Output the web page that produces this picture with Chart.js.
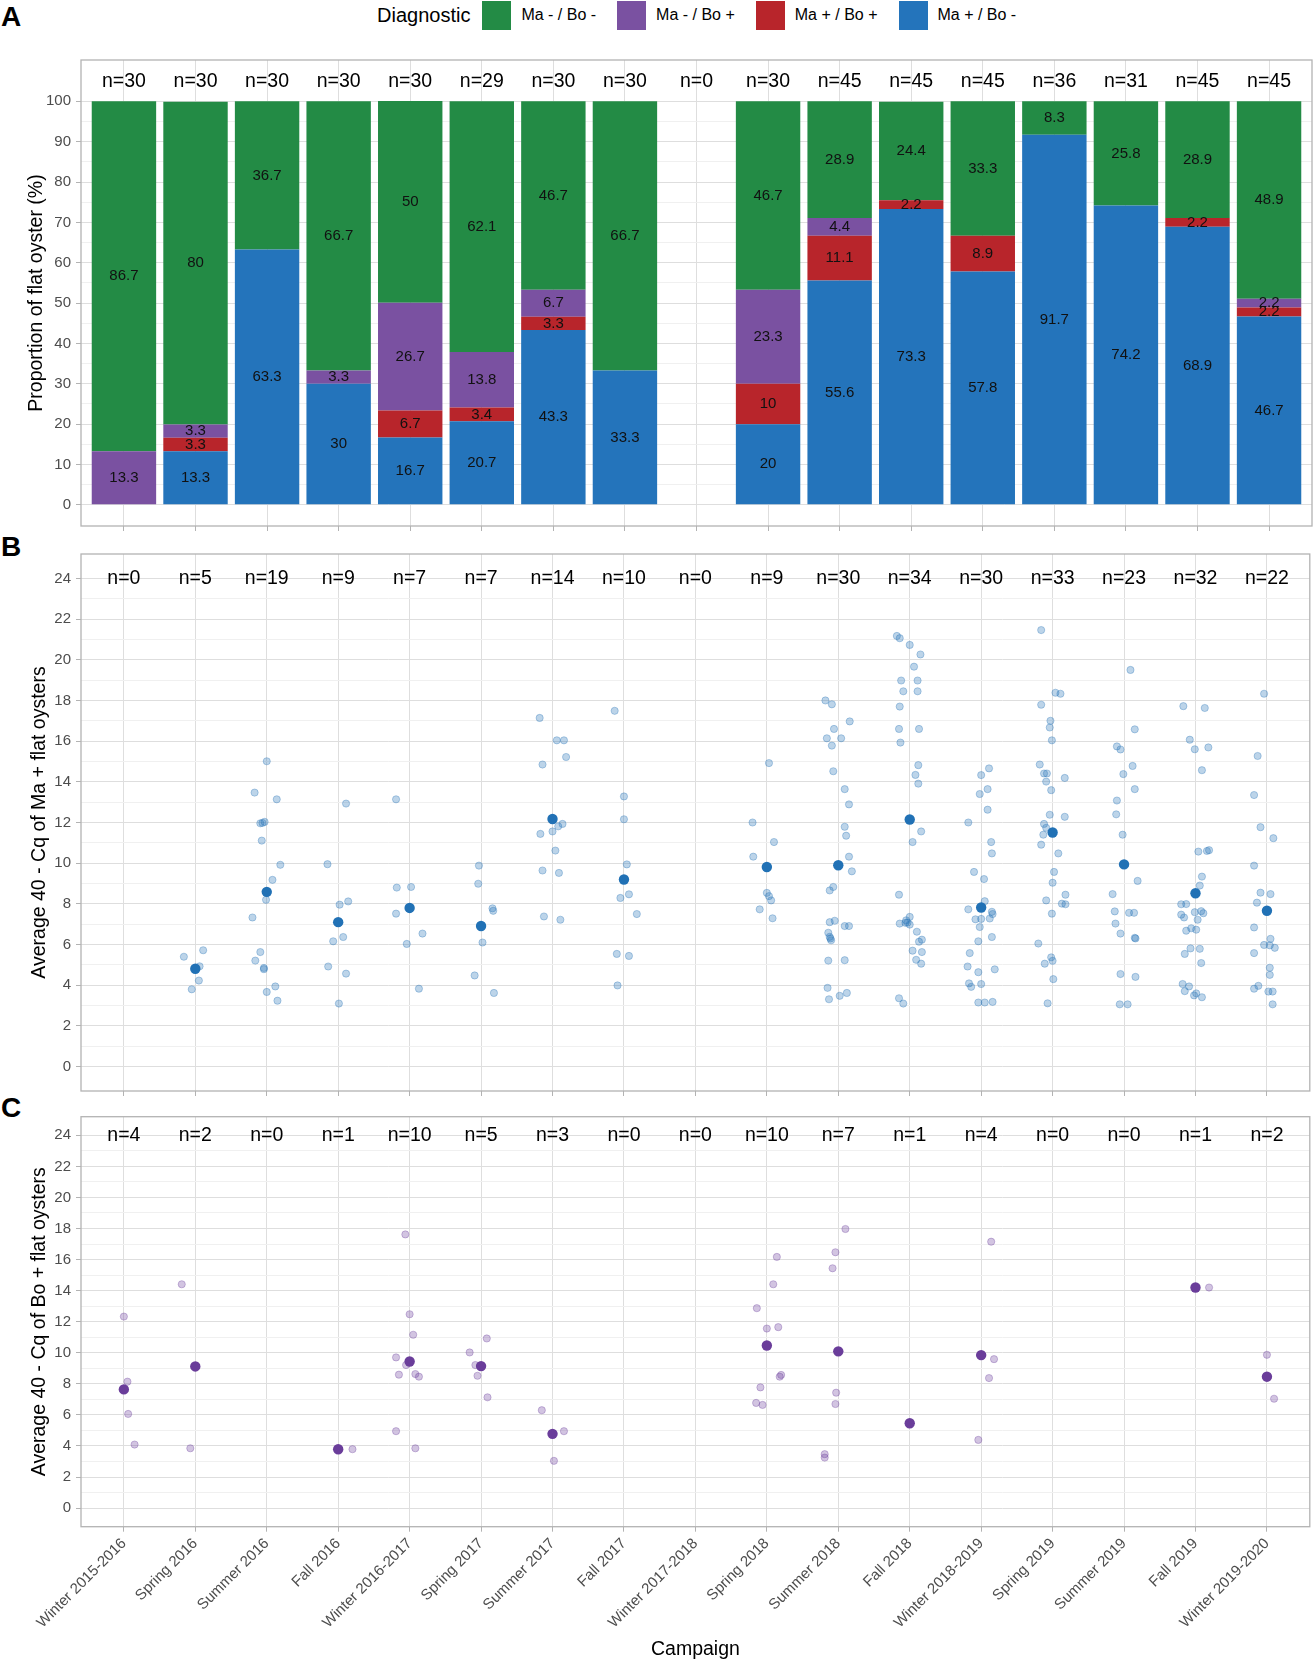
<!DOCTYPE html>
<html lang="en">
<head>
<meta charset="utf-8">
<title>Flat oyster diagnostics per campaign</title>
<script src="https://cdn.jsdelivr.net/npm/chart.js"></script>
<style>
  body { margin: 0; background: #fff; }
  #page { position: relative; width: 1315px; height: 1661px; overflow: hidden;
          font-family: "Liberation Sans", Arial, sans-serif; }
  #page canvas { position: absolute; left: 0; }
  .tag { position: absolute; left: 1px; font-size: 28px; font-weight: bold; line-height: 28px; }
  #legend { position: absolute; top: 0; left: 377px; height: 30px; display: flex; align-items: center; white-space: nowrap; }
  #legend .title { font-size: 20px; margin-right: 12px; }
  #legend .key { width: 29px; height: 29px; margin-right: 10px; }
  #legend .lab { font-size: 16px; margin-right: 21px; }
</style>
</head>
<body>
<div id="page">
  <div id="legend"></div>
  <div class="tag" style="top:3px">A</div>
  <div class="tag" style="top:533px">B</div>
  <div class="tag" style="top:1094px">C</div>
  <canvas id="chartA" width="1315" height="540" style="top:0"></canvas>
  <canvas id="chartB" width="1315" height="565" style="top:540px"></canvas>
  <canvas id="chartC" width="1315" height="561" style="top:1100px"></canvas>
</div>
<script>
// ---------- data ----------
const campaigns = ['Winter 2015-2016', 'Spring 2016', 'Summer 2016', 'Fall 2016', 'Winter 2016-2017',
  'Spring 2017', 'Summer 2017', 'Fall 2017', 'Winter 2017-2018', 'Spring 2018', 'Summer 2018',
  'Fall 2018', 'Winter 2018-2019', 'Spring 2019', 'Summer 2019', 'Fall 2019', 'Winter 2019-2020'];

const diagnostics = ['Ma - / Bo -', 'Ma - / Bo +', 'Ma + / Bo +', 'Ma + / Bo -'];
const diagColors = ['#238b45', '#7a51a1', '#b8252b', '#2474bb'];

// panel A: % of flat oysters per diagnostic (null = no sampling)
const pctMaPosBoNeg = [0, 13.3, 63.3, 30, 16.7, 20.7, 43.3, 33.3, null, 20, 55.6, 73.3, 57.8, 91.7, 74.2, 68.9, 46.7];
const pctMaPosBoPos = [0, 3.3, 0, 0, 6.7, 3.4, 3.3, 0, null, 10, 11.1, 2.2, 8.9, 0, 0, 2.2, 2.2];
const pctMaNegBoPos = [13.3, 3.3, 0, 3.3, 26.7, 13.8, 6.7, 0, null, 23.3, 4.4, 0, 0, 0, 0, 0, 2.2];
const pctMaNegBoNeg = [86.7, 80, 36.7, 66.7, 50, 62.1, 46.7, 66.7, null, 46.7, 28.9, 24.4, 33.3, 8.3, 25.8, 28.9, 48.9];
const nA = [30, 30, 30, 30, 30, 29, 30, 30, 0, 30, 45, 45, 45, 36, 31, 45, 45];

// panel B: 40 - Cq of Ma + oysters, per campaign, with the jitter seen in the figure
const nB = [0, 5, 19, 9, 7, 7, 14, 10, 0, 9, 30, 34, 30, 33, 23, 32, 22];
const maValues = [
  [],
  [5.40, 5.72, 4.93, 4.23, 3.80],
  [15.01, 13.47, 13.14, 11.96, 11.98, 12.03, 11.11, 9.92, 9.18, 8.55, 8.20, 7.33, 5.63, 5.21, 4.85, 4.79, 3.94, 3.67, 3.24],
  [12.93, 9.95, 8.12, 7.96, 6.37, 6.16, 4.92, 4.57, 3.10],
  [13.14, 8.83, 8.80, 7.52, 6.54, 6.03, 3.83],
  [9.88, 8.99, 7.78, 7.66, 6.10, 4.48, 3.62],
  [17.14, 16.04, 16.04, 15.22, 14.85, 11.93, 11.81, 11.56, 11.44, 10.62, 9.64, 9.52, 7.38, 7.22],
  [17.49, 13.28, 12.16, 9.94, 8.47, 8.29, 7.50, 5.54, 5.44, 3.99],
  [],
  [14.92, 12.0, 11.04, 10.32, 8.54, 8.38, 8.17, 7.73, 7.29],
  [18.0, 17.81, 16.97, 16.6, 16.14, 16.14, 15.78, 14.52, 13.64, 12.89, 11.79, 11.35, 10.32, 9.60, 8.83,
   8.66, 7.17, 7.10, 6.91, 6.91, 6.58, 6.38, 6.30, 6.21, 5.23, 5.21, 3.87, 3.62, 3.48, 3.31],
  [21.17, 21.06, 20.73, 20.26, 19.66, 18.98, 18.98, 18.45, 18.45, 17.70, 16.60, 16.60, 15.93, 14.82, 14.34,
   13.91, 11.56, 11.04, 8.45, 7.36, 7.19, 7.08, 7.07, 7.03, 6.98, 6.63, 6.24, 6.14, 5.70, 5.63, 5.25, 5.06, 3.36, 3.10],
  [14.66, 14.33, 13.64, 13.40, 12.63, 12.0, 11.04, 10.48, 9.57, 9.22, 8.13, 7.73, 7.61, 7.50, 7.28,
   7.26, 7.24, 6.86, 6.37, 6.16, 5.58, 4.92, 4.78, 4.64, 4.09, 4.06, 3.92, 3.18, 3.15, 3.15],
  [21.46, 18.38, 18.33, 17.79, 17.0, 16.67, 16.04, 14.85, 14.41, 14.41, 14.19, 14.01, 13.59, 12.38, 12.28, 11.93,
   11.74, 11.40, 10.91, 10.48, 9.57, 9.04, 8.45, 8.17, 8.01, 7.98, 7.52, 6.05, 5.37, 5.20, 5.06, 4.30, 3.11],
  [19.50, 16.58, 15.74, 15.59, 14.78, 14.38, 13.64, 13.08, 12.40, 11.40, 9.13, 8.48, 7.63, 7.56, 7.56, 7.03,
   6.54, 6.33, 6.30, 4.55, 4.41, 3.06, 3.06],
  [17.72, 17.63, 16.07, 15.69, 15.60, 14.57, 10.64, 10.60, 10.57, 9.34, 8.90, 7.99, 7.98, 7.64, 7.59, 7.54,
   7.47, 7.33, 7.22, 6.80, 6.73, 6.68, 5.81, 5.79, 5.54, 5.09, 4.06, 3.94, 3.71, 3.60, 3.50, 3.41],
  [18.33, 15.27, 13.35, 11.77, 11.23, 9.88, 8.55, 8.48, 8.06, 6.84, 6.28, 5.98, 5.96, 5.84, 5.58, 4.86,
   4.51, 3.97, 3.83, 3.69, 3.69, 3.06]
];
const maJitter = [
  [],
  [-0.16, 0.11, 0.06, 0.05, -0.05],
  [0, -0.17, 0.14, -0.09, -0.06, -0.03, -0.07, 0.19, 0.08, 0.01, -0.01, -0.2, -0.09, -0.16, -0.04, -0.04, 0.12, 0, 0.15],
  [0.11, -0.15, 0.14, 0.02, 0.07, -0.07, -0.14, 0.11, 0.01],
  [-0.19, 0.02, -0.18, -0.19, 0.18, -0.04, 0.13],
  [-0.03, -0.04, 0.16, 0.17, 0.02, -0.09, 0.18],
  [-0.18, 0.06, 0.16, 0.19, -0.14, 0.14, 0.08, 0, -0.17, 0.04, -0.14, 0.09, -0.12, 0.11],
  [-0.13, 0, 0, 0.04, 0.07, -0.05, 0.18, -0.1, 0.07, -0.09],
  [],
  [0.03, -0.2, 0.1, -0.19, 0, 0.03, 0.06, -0.1, 0.08],
  [-0.18, -0.09, 0.16, -0.06, -0.16, 0.04, -0.09, -0.07, 0.09, 0.15, 0.09, 0.11, 0.15, 0.19, -0.07,
   -0.12, -0.05, -0.12, 0.09, 0.15, -0.14, -0.12, -0.11, -0.1, 0.09, -0.14, -0.15, 0.12, 0.02, -0.13],
  [-0.18, -0.14, 0, 0.15, 0.06, -0.12, 0.11, -0.09, 0.11, -0.14, -0.15, 0.13, -0.13, 0.12, 0.08,
   0.12, 0.16, 0.04, -0.15, 0, -0.05, -0.03, -0.06, -0.14, 0, 0.1, 0.17, 0.13, 0.04, 0.17, 0.09, 0.16, -0.15, -0.09],
  [0.11, 0, 0.09, -0.02, 0.09, -0.18, 0.14, 0.15, -0.1, 0.04, 0.05, -0.18, 0.15, 0.16, 0.12,
   0, -0.08, -0.02, 0.15, -0.04, -0.16, -0.19, 0.19, -0.04, -0.17, 0, -0.14, 0.16, -0.04, 0.05],
  [-0.16, 0.04, 0.11, -0.16, -0.03, -0.04, -0.01, -0.18, -0.12, -0.08, 0.17, -0.09, -0.02, -0.04, 0.17, -0.12,
   -0.09, -0.13, -0.16, 0.08, 0.02, 0, 0.18, -0.09, 0.13, 0.18, -0.01, -0.2, -0.02, 0, -0.11, 0.01, -0.07],
  [0.09, 0.15, -0.1, -0.05, 0.12, -0.01, 0.15, -0.1, -0.11, -0.02, 0.19, -0.16, -0.13, 0.07, 0.14, -0.12,
   -0.05, 0.15, 0.16, -0.05, 0.16, -0.06, 0.05],
  [-0.17, 0.13, -0.08, 0.18, -0.01, 0.09, 0.19, 0.16, 0.04, 0.09, 0.06, -0.13, -0.2, 0.08, -0.01, 0.11,
   -0.2, -0.16, 0.03, -0.06, 0.01, -0.13, -0.07, 0.06, -0.15, 0.08, -0.18, -0.09, -0.15, 0.01, -0.02, 0.09],
  [-0.04, -0.13, -0.18, -0.09, 0.09, -0.18, -0.09, 0.05, -0.14, -0.18, 0.05, -0.04, 0.04, 0.11, -0.18, 0.04,
   0.04, -0.12, -0.18, 0.02, 0.08, 0.08]
];
const maMeans = [null, 4.81, 8.59, 7.10, 7.80, 6.91, 12.17, 9.20, null, 9.81, 9.90, 12.15, 7.82, 11.51, 9.94, 8.52, 7.66];

// panel C: 40 - Cq of Bo + oysters
const nC = [4, 2, 0, 1, 10, 5, 3, 0, 0, 10, 7, 1, 4, 0, 0, 1, 2];
const boValues = [
  [12.33, 8.14, 6.06, 4.09],
  [14.41, 3.85],
  [],
  [3.79],
  [17.62, 12.48, 11.16, 9.70, 9.21, 8.63, 8.59, 8.46, 4.95, 3.85],
  [10.92, 10.02, 9.21, 8.52, 7.13],
  [6.30, 4.95, 3.04],
  [],
  [],
  [16.17, 14.41, 12.87, 11.65, 11.56, 8.57, 8.46, 7.77, 6.77, 6.64],
  [17.97, 16.47, 15.44, 7.43, 6.70, 3.47, 3.25],
  [5.46],
  [17.15, 9.59, 8.37, 4.39],
  [],
  [],
  [14.20],
  [9.87, 7.04]
];
const boJitter = [
  [0, 0.05, 0.06, 0.15],
  [-0.19, -0.07],
  [],
  [0.2],
  [-0.06, 0, 0.05, -0.19, -0.05, 0.08, -0.15, 0.13, -0.19, 0.08],
  [0.08, -0.16, -0.08, -0.05, 0.09],
  [-0.15, 0.16, 0.02],
  [],
  [],
  [0.14, 0.09, -0.14, 0.16, 0, 0.2, 0.18, -0.09, -0.15, -0.06],
  [0.1, -0.04, -0.08, -0.03, -0.04, -0.19, -0.19],
  [-0.01],
  [0.14, 0.18, 0.11, -0.04],
  [],
  [],
  [0.19],
  [0, 0.1]
];
const boMeans = [7.64, 9.12, null, 3.79, 9.44, 9.14, 4.78, null, null, 10.47, 10.09, 5.46, 9.85, null, null, 14.20, 8.46];

// ---------- look ----------
const FONT = '"Liberation Sans", Arial, sans-serif';
const GRID_MAJOR = '#dedede', GRID_MINOR = '#f0f0f0', FRAME = '#b3b3b3', TICK_TEXT = '#4d4d4d';

Chart.defaults.font.family = FONT;
Chart.defaults.color = TICK_TEXT;
Chart.defaults.animation = false;
Chart.defaults.responsive = false;
Chart.defaults.plugins.legend.display = false;
Chart.defaults.plugins.tooltip.enabled = false;

// legend (top, shared)
document.getElementById('legend').innerHTML = '<span class="title">Diagnostic</span>' +
  diagnostics.map((d, i) => `<span class="key" style="background:${diagColors[i]}"></span><span class="lab">${d}</span>`).join('');

// grey frame around each panel
const framePlugin = {
  id: 'frame',
  afterDatasetsDraw(chart) {
    const { ctx, chartArea: a } = chart;
    ctx.save();
    ctx.strokeStyle = FRAME;
    ctx.lineWidth = 1.3;
    ctx.strokeRect(a.left, a.top, a.right - a.left, a.bottom - a.top);
    ctx.restore();
  }
};

// "n=.." row at the top of a panel
function countLabels(counts, atValue) {
  return {
    id: 'counts',
    afterDatasetsDraw(chart) {
      const { ctx, scales: { x, y } } = chart;
      ctx.save();
      ctx.font = '19.5px ' + FONT;
      ctx.fillStyle = '#000';
      ctx.textAlign = 'center';
      ctx.textBaseline = 'middle';
      counts.forEach((n, i) => ctx.fillText('n=' + n, x.getPixelForValue(i), y.getPixelForValue(atValue)));
      ctx.restore();
    }
  };
}

// value in the middle of each stacked segment
const barLabels = {
  id: 'barLabels',
  afterDatasetsDraw(chart) {
    const { ctx } = chart;
    ctx.save();
    ctx.font = '15px ' + FONT;
    ctx.fillStyle = '#111';
    ctx.textAlign = 'center';
    ctx.textBaseline = 'middle';
    chart.data.datasets.forEach((ds, di) => {
      chart.getDatasetMeta(di).data.forEach((bar, j) => {
        const v = ds.data[j].y;
        if (!v) return;
        const { x, y, base } = bar.getProps(['x', 'y', 'base'], true);
        ctx.fillText(String(v), x, (y + base) / 2);
      });
    });
    ctx.restore();
  }
};

function xAxis(height, withLabels) {
  return {
    type: 'linear', min: -0.6, max: 16.6, bounds: 'data', offset: false, stacked: true,
    afterBuildTicks: s => { s.ticks = campaigns.map((c, i) => ({ value: i })); },
    afterFit: s => { s.height = height; },
    grid: { offset: false, color: GRID_MAJOR, lineWidth: 1, tickLength: 5, tickColor: FRAME },
    border: { display: false },
    ticks: {
      display: withLabels, autoSkip: false, minRotation: 45, maxRotation: 45, padding: 3,
      font: { size: 15 }, color: TICK_TEXT, callback: v => campaigns[v]
    },
    title: { display: withLabels, text: 'Campaign', color: '#000', font: { size: 19.5 }, padding: { top: 0, bottom: 0 } }
  };
}

function yAxis(min, max, step, major, top, titleText, titlePad, stacked) {
  const isMajor = c => c.tick && c.tick.value % major === 0;
  return {
    type: 'linear', min: min, max: max, bounds: 'data', stacked: !!stacked,
    afterBuildTicks: s => {
      const t = [];
      for (let v = 0; v <= top; v += step) t.push({ value: v });
      s.ticks = t;
    },
    afterFit: s => { s.width = 81; },
    grid: {
      color: c => isMajor(c) ? GRID_MAJOR : GRID_MINOR,
      tickColor: c => isMajor(c) ? FRAME : 'rgba(0,0,0,0)',
      tickLength: 5, lineWidth: 1
    },
    border: { display: false },
    ticks: { autoSkip: false, padding: 5, font: { size: 15 }, color: TICK_TEXT, callback: v => v % major === 0 ? v : '' },
    title: { display: true, text: titleText, color: '#000', font: { size: 19.5 }, padding: { top: titlePad, bottom: 0 } }
  };
}

// ---------- panel A ----------
const stackOrder = [ // bottom of the bar first
  { label: diagnostics[3], color: diagColors[3], values: pctMaPosBoNeg },
  { label: diagnostics[2], color: diagColors[2], values: pctMaPosBoPos },
  { label: diagnostics[1], color: diagColors[1], values: pctMaNegBoPos },
  { label: diagnostics[0], color: diagColors[0], values: pctMaNegBoNeg }
];

new Chart(document.getElementById('chartA'), {
  type: 'bar',
  data: {
    datasets: stackOrder.map(s => ({
      label: s.label,
      backgroundColor: s.color,
      borderWidth: 0,
      barPercentage: 0.9,
      categoryPercentage: 1,
      data: s.values.map((v, i) => ({ x: i, y: v })).filter(p => p.y !== null)
    }))
  },
  options: {
    layout: { padding: { top: 60, right: 3, left: 0, bottom: 0 } },
    scales: {
      x: xAxis(13, false),
      y: yAxis(-5.25, 110.25, 5, 10, 100, 'Proportion of flat oyster (%)', 25, true)
    }
  },
  plugins: [framePlugin, barLabels, countLabels(nA, 105)]
});

// ---------- panels B and C ----------
function scatterPanel(id, values, jitter, means, counts, rgb, titleText, padTop, xHeight, withLabels) {
  const points = [];
  values.forEach((list, i) => list.forEach((v, j) => points.push({ x: i + jitter[i][j], y: v })));
  const meanPts = means.map((m, i) => ({ x: i, y: m })).filter(p => p.y !== null);
  return new Chart(document.getElementById(id), {
    type: 'scatter',
    data: {
      datasets: [
        { label: 'mean', data: meanPts, pointRadius: 5.2, backgroundColor: `rgb(${rgb})`, borderColor: `rgb(${rgb})`, borderWidth: 0 },
        { label: 'oysters', data: points, pointRadius: 3.6, backgroundColor: `rgba(${rgb},0.3)`, borderColor: `rgba(${rgb},0.32)`, borderWidth: 1 }
      ]
    },
    options: {
      layout: { padding: { top: padTop, right: 3, left: 0, bottom: 0 } },
      scales: {
        x: xAxis(xHeight, withLabels),
        y: yAxis(-1.2, 25.2, 1, 2, 24, titleText, 28, false)
      }
    },
    plugins: [framePlugin, countLabels(counts, 24)]
  });
}

scatterPanel('chartB', maValues, maJitter, maMeans, nB, '33,113,181',
  'Average 40 - Cq of Ma + flat oysters', 13.6, 13, false);
scatterPanel('chartC', boValues, boJitter, boMeans, nC, '106,61,154',
  'Average 40 - Cq of Bo + flat oysters', 16.7, 134.3, true);
</script>
</body>
</html>
